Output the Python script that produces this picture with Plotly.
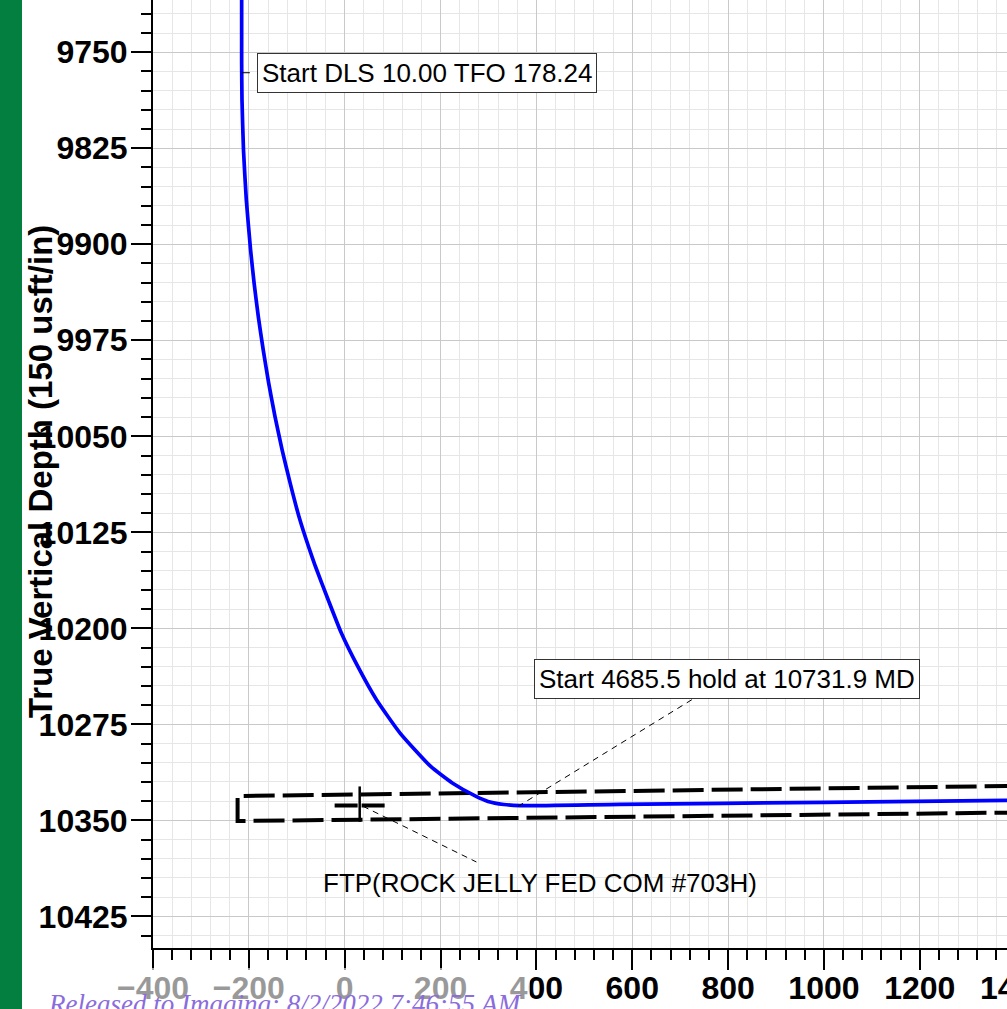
import plotly.graph_objects as go

# ---------------- data ----------------
well_vs = [-215.0, -215.0, -215.0, -214.3, -211.2, -205.3, -196.4, -189.0, -180.3,
           -170.0, -158.6, -145.4, -130.6, -113.8, -95.5, -75.5, -61.0, -34.5, -7.0,
           27.3, 66.3, 115.5, 179.5, 224.5, 274.2, 299.0, 332.0, 365.0, 573.9, 1000.0, 1400.0]
well_tvd = [9700.0, 9740.0, 9758.5, 9787.2, 9826.3, 9865.3, 9904.4, 9930.4, 9956.5,
            9982.5, 10008.5, 10034.6, 10060.6, 10086.6, 10112.6, 10136.1, 10151.7, 10177.7, 10203.7,
            10229.8, 10255.8, 10281.8, 10307.9, 10320.8, 10331.3, 10335.2, 10337.6, 10338.5, 10337.5, 10335.9, 10334.3]

window_vs = [1400.0, -223.5, -223.5, 1400.0]
window_tvd = [10323.1, 10331.0, 10350.5, 10343.9]

ftp_bar_vs = [-21.0, 87.6]
ftp_bar_tvd = [10338.3, 10338.3]
ftp_mark_vs = [31.3, 31.3]
ftp_mark_tvd = [10323.5, 10351.1]

kop_leader_vs = [-215.2, -197.9]
kop_leader_tvd = [9766.0, 9766.0]
hold_leader_vs = [361.6, 726.8]
hold_leader_tvd = [10339.1, 10255.2]
ftp_leader_vs = [38.2, 274.8]
ftp_leader_tvd = [10339.0, 10382.5]

x_range = [-400, 1382]
y_range = [10449.7, 9709.2]

label_kop = "Start DLS 10.00 TFO 178.24"
label_kop_pos = (171.1, 9766.6)
label_hold = "Start 4685.5 hold at 10731.9 MD"
label_hold_pos = (797.5, 10239.5)
label_ftp = "FTP(ROCK JELLY FED COM #703H)"
label_ftp_pos = (406.9, 10398.7)
y_title = "True Vertical Depth (150 usft/in)"
stamp = "Released to Imaging: 8/2/2022 7:46:55 AM"
cut_tick_label = "1400"

FONT = "Liberation Sans, Arial, sans-serif"

fig = go.Figure()

fig.add_trace(go.Scatter(x=window_vs, y=window_tvd, mode="lines",
                         line=dict(color="black", width=4, dash="31px,8px"),
                         hoverinfo="skip", showlegend=False))
fig.add_trace(go.Scatter(x=ftp_bar_vs, y=ftp_bar_tvd, mode="lines",
                         line=dict(color="black", width=4, dash="23px,4px"),
                         hoverinfo="skip", showlegend=False))
fig.add_trace(go.Scatter(x=ftp_mark_vs, y=ftp_mark_tvd, mode="lines",
                         line=dict(color="black", width=2.5),
                         hoverinfo="skip", showlegend=False))
fig.add_trace(go.Scatter(x=well_vs, y=well_tvd, mode="lines",
                         line=dict(color="#0000ff", width=3.7, shape="spline", smoothing=0.5),
                         hoverinfo="skip", showlegend=False))
fig.add_trace(go.Scatter(x=kop_leader_vs, y=kop_leader_tvd, mode="lines",
                         line=dict(color="black", width=1),
                         hoverinfo="skip", showlegend=False))
fig.add_trace(go.Scatter(x=hold_leader_vs, y=hold_leader_tvd, mode="lines",
                         line=dict(color="black", width=1, dash="6px,5px"),
                         hoverinfo="skip", showlegend=False))
fig.add_trace(go.Scatter(x=ftp_leader_vs, y=ftp_leader_tvd, mode="lines",
                         line=dict(color="black", width=1, dash="6px,5px"),
                         hoverinfo="skip", showlegend=False))

axis_common = dict(
    showline=True, linecolor="black", linewidth=2,
    ticks="outside", ticklen=20, tickwidth=2, tickcolor="black",
    showgrid=True, gridcolor="#c9c9c9", gridwidth=1,
    zeroline=False, automargin=False, tickformat="d",
    tickfont=dict(family=FONT, size=32, color="black", weight="bold"),
)

fig.update_xaxes(range=x_range, dtick=200, tick0=0, ticklabelstandoff=-9,
                 minor=dict(dtick=40, ticklen=10, tickwidth=1.5, tickcolor="black",
                            ticks="outside", showgrid=True, gridcolor="#e6e6e6", gridwidth=1),
                 **axis_common)
fig.update_yaxes(range=y_range, dtick=75, tick0=0, ticklabelstandoff=-3,
                 minor=dict(dtick=15, ticklen=10, tickwidth=1.5, tickcolor="black",
                            ticks="outside", showgrid=True, gridcolor="#e6e6e6", gridwidth=1),
                 **axis_common)

W, H = 1007, 1009
ML, MB = 153, 61
PW, PH = W - ML, H - MB


def px2paper_x(px):
    return (px - ML) / PW


def px2paper_y(py):
    return (PH - py) / PH


annotations = [
    dict(x=label_kop_pos[0], y=label_kop_pos[1], xref="x", yref="y", text=label_kop,
         showarrow=False, font=dict(family=FONT, size=26, color="black"),
         bgcolor="white", bordercolor="#333333", borderwidth=1, borderpad=4,
         xanchor="center", yanchor="middle"),
    dict(x=label_hold_pos[0], y=label_hold_pos[1], xref="x", yref="y", text=label_hold,
         showarrow=False, font=dict(family=FONT, size=26, color="black"),
         bgcolor="white", bordercolor="#333333", borderwidth=1, borderpad=4,
         xanchor="center", yanchor="middle"),
    dict(x=label_ftp_pos[0], y=label_ftp_pos[1], xref="x", yref="y", text=label_ftp,
         showarrow=False, font=dict(family=FONT, size=26, color="black"),
         xanchor="center", yanchor="middle"),
    dict(x=px2paper_x(40), y=px2paper_y(472), xref="paper", yref="paper", text=y_title,
         textangle=-90, showarrow=False,
         font=dict(family=FONT, size=33, color="black", weight="bold"),
         xanchor="center", yanchor="middle"),
    dict(x=px2paper_x(1016), y=px2paper_y(988), xref="paper", yref="paper", text=cut_tick_label,
         showarrow=False, font=dict(family=FONT, size=32, color="black", weight="bold"),
         xanchor="center", yanchor="middle"),
    dict(x=px2paper_x(46), y=px2paper_y(1004), xref="paper", yref="paper", text=stamp,
         showarrow=False,
         font=dict(family="Liberation Serif, Times New Roman, serif", size=27,
                   color="rgb(138,108,220)", style="italic"),
         xanchor="left", yanchor="middle"),
]

shapes = [
    dict(type="rect", xref="paper", yref="paper",
         x0=px2paper_x(0), x1=px2paper_x(22), y0=px2paper_y(1020), y1=px2paper_y(-10),
         fillcolor="#03803f", line=dict(width=0), layer="above"),
    dict(type="rect", xref="paper", yref="paper",
         x0=px2paper_x(44), x1=px2paper_x(530), y0=px2paper_y(1012), y1=px2paper_y(968),
         fillcolor="rgba(255,255,255,0.6)", line=dict(width=0), layer="above"),
]

fig.update_layout(
    width=W, height=H, autosize=False,
    margin=dict(l=ML, r=0, t=0, b=MB, pad=0),
    paper_bgcolor="white", plot_bgcolor="white",
    showlegend=False,
    annotations=annotations, shapes=shapes,
    font=dict(family=FONT),
)

fig.write_html("out.html", config={"displayModeBar": False})
